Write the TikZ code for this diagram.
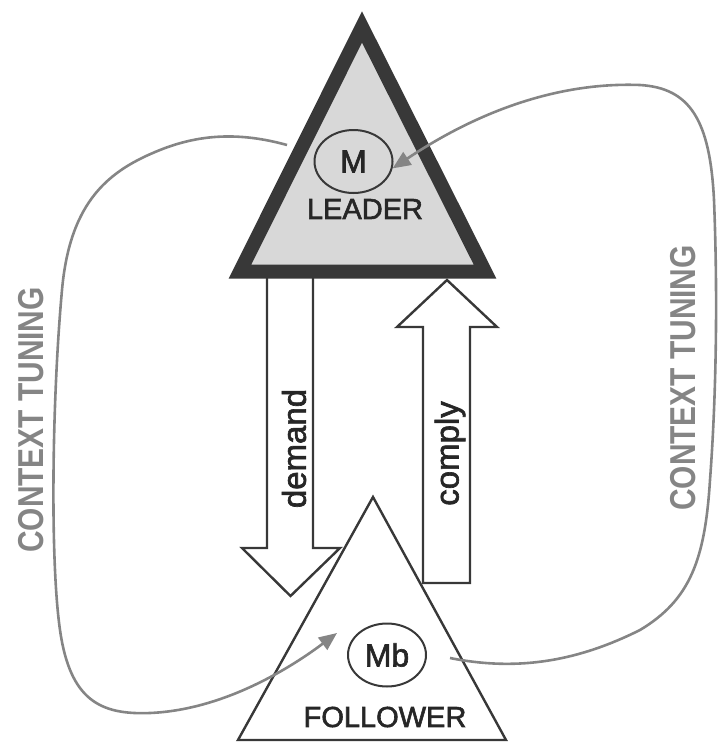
\documentclass[tikz,border=0pt]{standalone}
\usepackage{fontspec}
\setmainfont{Liberation Sans}
\newfontfamily\medfont[FakeBold=2]{Liberation Sans}
\usetikzlibrary{shapes.geometric,arrows.meta}
\definecolor{frame}{HTML}{383838}
\definecolor{leaderfill}{HTML}{D8D8D8}
\definecolor{tuning}{HTML}{858585}

\begin{document}
\begin{tikzpicture}[x=1pt,y=-1pt]
		\tikzset{tag/.style = {font=\medfont\fontsize{29}{34}\selectfont, text=black!85, inner sep=0pt}}
		\tikzset{model/.style = {ellipse, draw=frame, line width=2pt, minimum width=78pt, minimum height=63pt, inner sep=0pt,
		                         font=\medfont\fontsize{32}{36}\selectfont, text=black!85}}
		\tikzset{block/.style = {draw=frame, line width=2.4pt, fill=white, line join=miter}}
		\tikzset{flow/.style = {rotate=90, font=\medfont\fontsize{33}{38}\selectfont, text=black!85, inner sep=0pt}}
		\tikzset{caption/.style = {rotate=90, text=tuning, inner sep=0pt, font=\bfseries\fontsize{36}{40}\selectfont}}
		\tikzset{edge/.style = {draw=tuning, line width=2.6pt, -{Triangle[length=18pt,width=15pt]}}}
		
		\useasboundingbox (0,0) rectangle (719,742);
		
		\draw[block] (267,276) -- (313,276) -- (313,548) -- (340,548) -- (290.5,596) -- (242,548) -- (267,548) -- cycle;
		\draw[block] (423,583) -- (423,327) -- (397,327) -- (447,280) -- (497,327) -- (470,327) -- (470,583) -- cycle;
		
		\draw[draw=frame, line width=14pt, fill=leaderfill, line join=miter] (362,27) -- (240,271.5) -- (485,271.5) -- cycle;
		\draw[draw=frame, line width=2.4pt, line join=miter] (373,497) -- (238,740) -- (506,740) -- cycle;
		
		\node[model] (m)        at (353.5, 161.5) {M};
		\node[tag]   (leader)   at (  365,   209) {LEADER};
		\node[model] (mb)       at (  387,   655) {Mb};
		\node[tag]   (follower) at (  385,   717) {FOLLOWER};
		
		\node[flow]    (demand) at (294, 448.5) {demand};
		\node[flow]    (comply) at (450, 453.5) {comply};
		
		\node[caption] (ctleft)  at ( 31, 420) {\scalebox{0.83}[1]{CONTEXT TUNING}};
		\node[caption] (ctright) at (683, 378) {\scalebox{0.83}[1]{CONTEXT TUNING}};
		
		\coordinate (lstart) at (287, 145);
		\coordinate (lend)   at (337, 633);
		\coordinate (rstart) at (450, 658);
		
		\draw[edge] (lstart) .. controls (240,132) and (200,134) .. (160,150)
		                     .. controls (110,170) and (70,200) .. (62,290)
		                     .. controls (52,400) and (50,560) .. (60,630)
		                     .. controls (70,700) and (100,715) .. (150,713)
		                     .. controls (220,710) and (285,672) .. (lend);
		\draw[edge] (rstart) .. controls (520,672) and (580,660) .. (640,630)
		                     .. controls (690,600) and (705,560) .. (710,480)
		                     .. controls (716,400) and (718,300) .. (714,200)
		                     .. controls (710,120) and (690,88) .. (640,85)
		                     .. controls (560,82) and (480,110) .. (m.-10);
\end{tikzpicture}
\end{document}
